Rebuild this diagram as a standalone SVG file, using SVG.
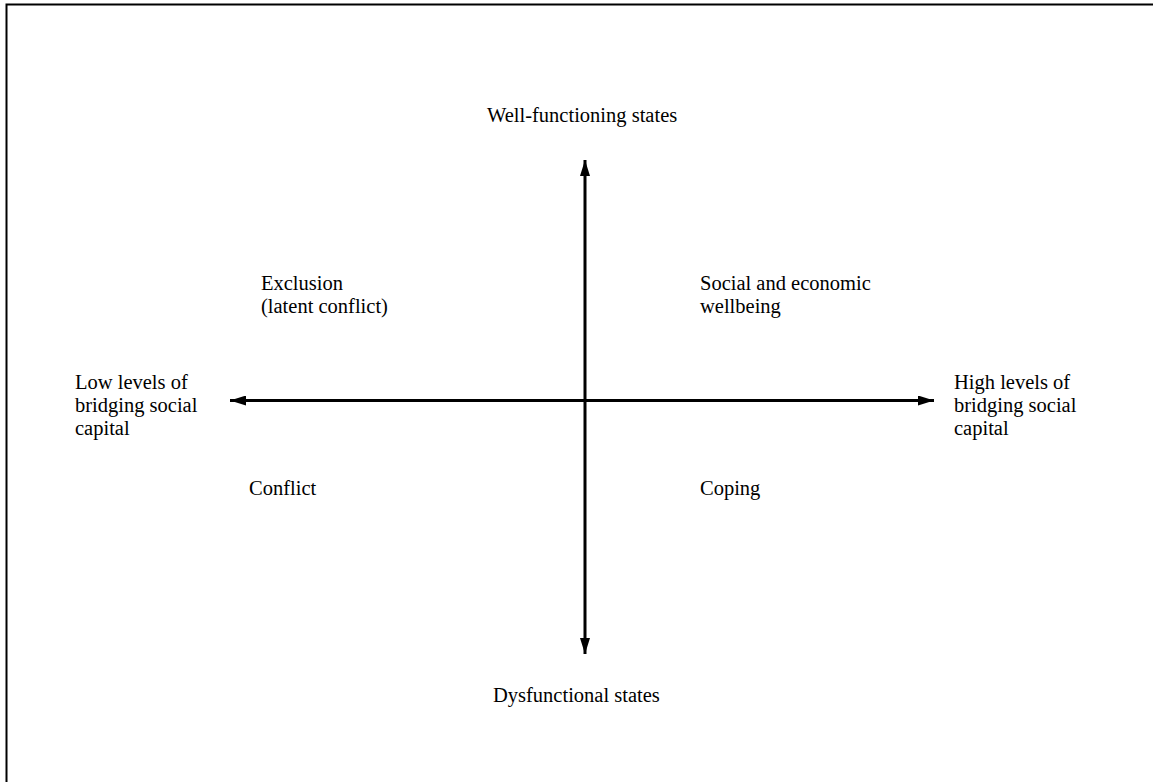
<svg xmlns="http://www.w3.org/2000/svg" width="1153" height="782" viewBox="0 0 1153 782">
<style>
text{font-family:"Liberation Serif","Times New Roman",serif;font-size:20.5px;fill:#000}
.ax{stroke:#000;stroke-width:3;fill:none}
</style>
<defs>
<marker id="ah" viewBox="0 0 16 10" refX="16" refY="5" markerWidth="16" markerHeight="10" markerUnits="userSpaceOnUse" orient="auto-start-reverse">
<path d="M0,0 L16,5 L0,10 z" fill="#000"/>
</marker>
</defs>
<rect width="1153" height="782" fill="#fff"/>
<path d="M6.5,782 V4.5 H1153" stroke="#000" stroke-width="2" fill="none"/>
<g id="connectors">
<line class="ax" x1="585" y1="654" x2="585" y2="160" marker-start="url(#ah)" marker-end="url(#ah)"/>
<line class="ax" x1="230" y1="400.5" x2="934" y2="400.5" marker-start="url(#ah)" marker-end="url(#ah)"/>
</g>
<g id="top"><text x="487" y="122">Well-functioning states</text></g>
<g id="exclusion"><text x="261" y="290">Exclusion</text><text x="261" y="313">(latent conflict)</text></g>
<g id="wellbeing"><text x="700" y="290">Social and economic</text><text x="700" y="313">wellbeing</text></g>
<g id="low"><text x="75" y="389">Low levels of</text><text x="75" y="412">bridging social</text><text x="75" y="435">capital</text></g>
<g id="high"><text x="954" y="389">High levels of</text><text x="954" y="412">bridging social</text><text x="954" y="435">capital</text></g>
<g id="conflict"><text x="249" y="495">Conflict</text></g>
<g id="coping"><text x="700" y="495">Coping</text></g>
<g id="bottom"><text x="493" y="702">Dysfunctional states</text></g>
</svg>
